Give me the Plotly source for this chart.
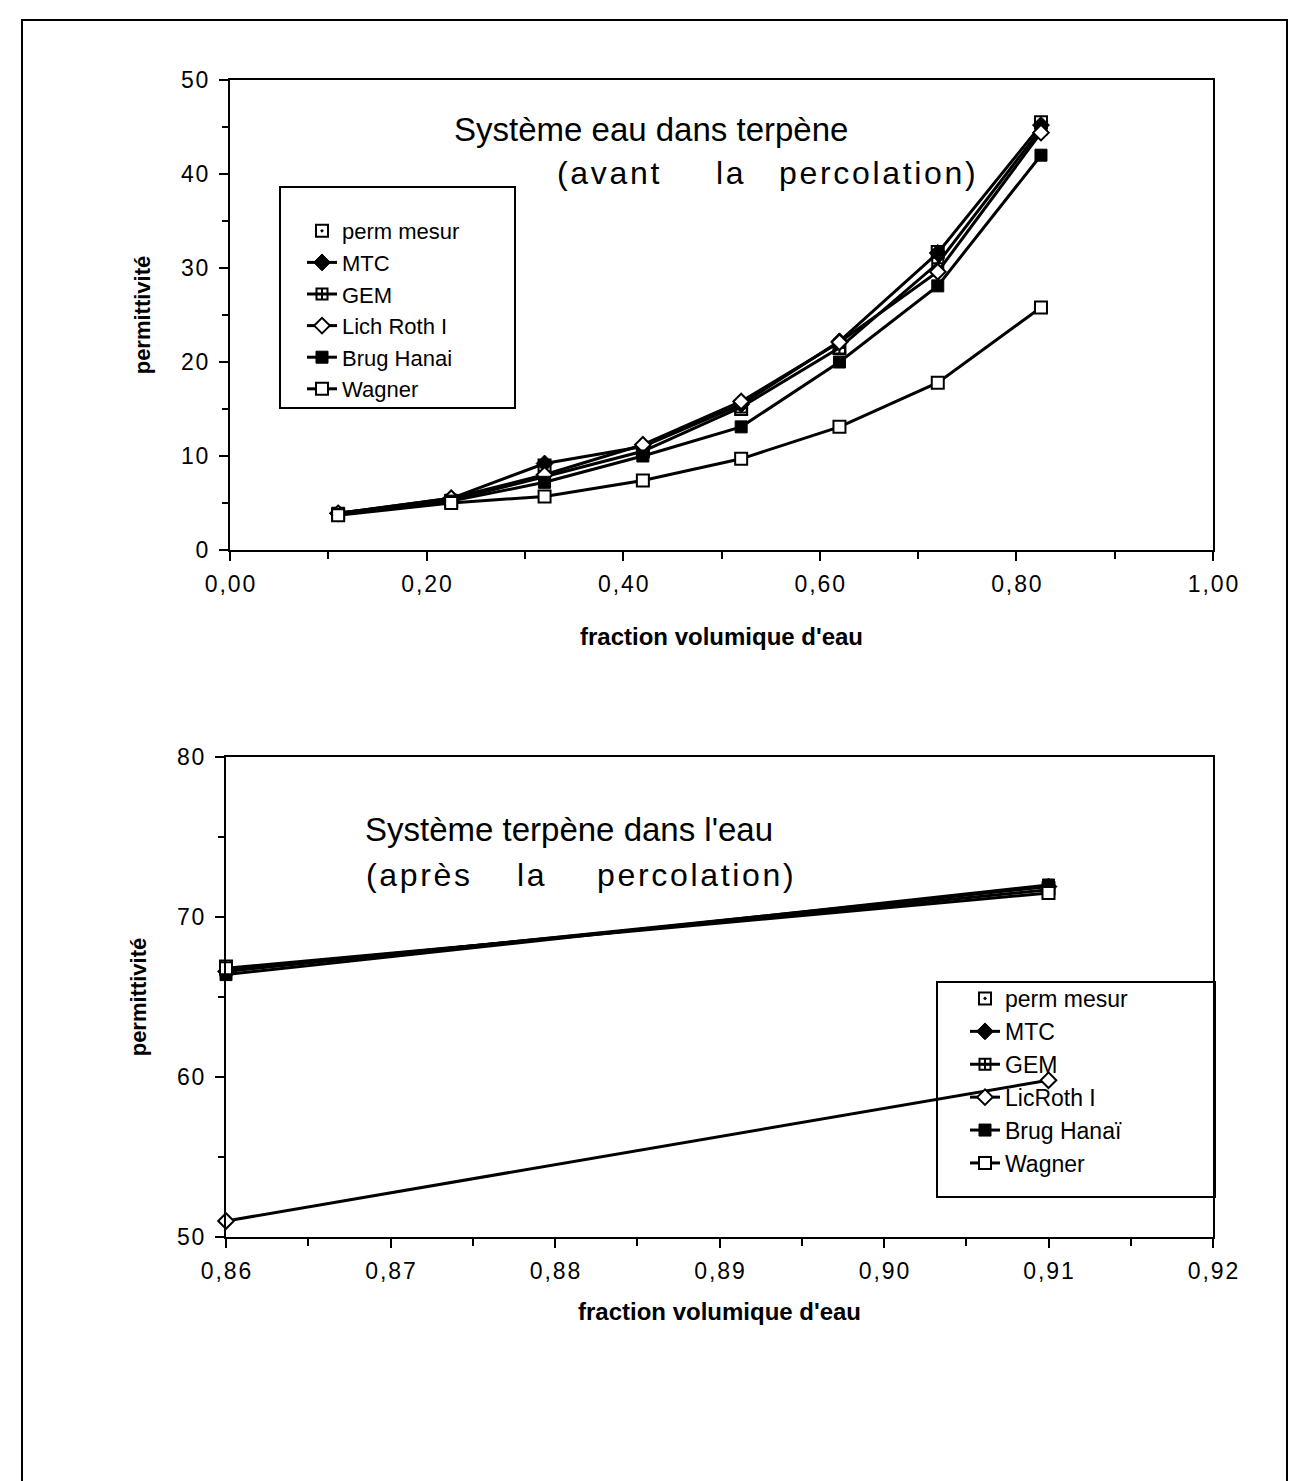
import plotly.graph_objects as go

W, H = 1308, 1481

# ---------------- data ----------------
series_names_top = ["perm mesur", "MTC", "GEM", "Lich Roth I", "Brug Hanai", "Wagner"]
series_names_bot = ["perm mesur", "MTC", "GEM", "LicRoth I", "Brug Hanaï", "Wagner"]

x_top = [0.11, 0.225, 0.32, 0.42, 0.52, 0.62, 0.72, 0.825]
perm_mesur_top = [3.8, 5.2, 9.0, 10.5, 15.0, 21.5, 31.7, 45.5]
mtc_top = [3.9, 5.5, 9.2, 11.0, 15.5, 22.2, 31.6, 45.2]
gem_top = [3.9, 5.3, 7.8, 10.5, 15.2, 21.5, 30.5, 44.8]
lich_top = [3.9, 5.5, 8.0, 11.2, 15.8, 22.1, 29.6, 44.4]
brug_top = [3.8, 5.2, 7.2, 10.0, 13.1, 20.0, 28.1, 42.0]
wagner_top = [3.7, 5.0, 5.7, 7.4, 9.7, 13.1, 17.8, 25.8]

x_bot = [0.86, 0.91]
perm_mesur_bot = [66.9, 71.8]
mtc_bot = [66.6, 71.9]
gem_bot = [66.7, 71.7]
lich_bot = [51.0, 59.8]
brug_bot = [66.4, 72.0]
wagner_bot = [66.8, 71.5]

x_ticks_top = [0.0, 0.2, 0.4, 0.6, 0.8, 1.0]
y_ticks_top = [0, 10, 20, 30, 40, 50]
x_ticks_bot = [0.86, 0.87, 0.88, 0.89, 0.90, 0.91, 0.92]
y_ticks_bot = [50, 60, 70, 80]

# ---------------- helpers ----------------
OFF = 8  # page body margin

def px(x):
    return (x - OFF) / W

def py(y):
    return 1 - (y - OFF) / H

FONT = "Liberation Sans, Arial, sans-serif"
HAIR = "\u200a"

def spread(s, sep=HAIR):
    return sep.join(list(s))

def fmt_x(v):
    return spread(f"{v:.2f}".replace(".", ","))

def fmt_y(v):
    return spread(f"{v:d}")

styles = [
    dict(mode="markers", marker=dict(symbol="square-open-dot", size=12, color="black", line=dict(width=2))),
    dict(mode="lines+markers", marker=dict(symbol="diamond", size=13, color="black", line=dict(color="black", width=1))),
    dict(mode="lines+markers", marker=dict(symbol="square-cross-open", size=11, color="black", line=dict(width=2))),
    dict(mode="lines+markers", marker=dict(symbol="diamond", size=12, color="white", line=dict(color="black", width=2))),
    dict(mode="lines+markers", marker=dict(symbol="square", size=12, color="black", line=dict(color="black", width=1))),
    dict(mode="lines+markers", marker=dict(symbol="square", size=12, color="white", line=dict(color="black", width=2))),
]

fig = go.Figure()

top_vals = [perm_mesur_top, mtc_top, gem_top, lich_top, brug_top, wagner_top]
bot_vals = [perm_mesur_bot, mtc_bot, gem_bot, lich_bot, brug_bot, wagner_bot]

for name, vals, st in zip(series_names_top, top_vals, styles):
    fig.add_trace(go.Scatter(x=x_top, y=vals, name=name, xaxis="x", yaxis="y",
                             line=dict(color="black", width=3), cliponaxis=False,
                             legend="legend", **st))

for name, vals, st in zip(series_names_bot, bot_vals, styles):
    fig.add_trace(go.Scatter(x=x_bot, y=vals, name=name, xaxis="x2", yaxis="y2",
                             line=dict(color="black", width=3), cliponaxis=False,
                             legend="legend2", **st))

axis_common = dict(showline=True, linecolor="black", linewidth=2, mirror=True,
                   showgrid=False, zeroline=False, ticks="outside", tickcolor="black",
                   tickwidth=2, ticklen=9, automargin=False,
                   tickfont=dict(family=FONT, size=23, color="black"))

ytitle_font = dict(family=FONT, size=22, color="black")
xtitle_font = dict(family=FONT, size=24, color="black")

fig.update_layout(
    width=W, height=H,
    margin=dict(l=0, r=0, t=0, b=0, pad=0),
    paper_bgcolor="white", plot_bgcolor="white",
    showlegend=True,
    xaxis=dict(domain=[px(230), px(1213)], range=[0, 1], anchor="y",
               tickvals=x_ticks_top, ticktext=[fmt_x(v) for v in x_ticks_top],
               ticklabelstandoff=3,
               minor=dict(dtick=0.1, ticks="outside", ticklen=7, tickcolor="black", tickwidth=2),
               title=dict(text="<b>fraction volumique d'eau</b>", font=xtitle_font, standoff=33),
               **axis_common),
    yaxis=dict(domain=[py(550), py(80)], range=[0, 50], anchor="x",
               tickvals=y_ticks_top, ticktext=[fmt_y(v) for v in y_ticks_top],
               ticklabelstandoff=6,
               minor=dict(dtick=5, ticks="outside", ticklen=6, tickcolor="black", tickwidth=2),
               title=dict(text="<b>permittivité</b>", font=ytitle_font, standoff=24),
               **axis_common),
    xaxis2=dict(domain=[px(226), px(1213)], range=[0.86, 0.92], anchor="y2",
                tickvals=x_ticks_bot, ticktext=[fmt_x(v) for v in x_ticks_bot],
                ticklabelstandoff=3,
                minor=dict(dtick=0.005, ticks="outside", ticklen=7, tickcolor="black", tickwidth=2),
                title=dict(text="<b>fraction volumique d'eau</b>", font=xtitle_font, standoff=21),
                **axis_common),
    yaxis2=dict(domain=[py(1237), py(757)], range=[50, 80], anchor="x2",
                tickvals=y_ticks_bot, ticktext=[fmt_y(v) for v in y_ticks_bot],
                ticklabelstandoff=6,
                minor=dict(dtick=5, ticks="outside", ticklen=6, tickcolor="black", tickwidth=2),
                title=dict(text="<b>permittivité</b>", font=ytitle_font, standoff=24),
                **axis_common),
    legend=dict(x=px(302), y=py(210), xanchor="left", yanchor="top",
                bgcolor="rgba(0,0,0,0)", borderwidth=0,
                font=dict(family=FONT, size=22, color="black"), tracegroupgap=0),
    legend2=dict(x=px(965), y=py(977), xanchor="left", yanchor="top",
                 bgcolor="rgba(0,0,0,0)", borderwidth=0,
                 font=dict(family=FONT, size=23, color="black"), tracegroupgap=0),
)

shapes = [
    # outer frame
    dict(type="rect", xref="paper", yref="paper", x0=px(22), x1=px(1287), y0=-0.05, y1=py(20),
         line=dict(color="black", width=2)),
    # legend boxes
    dict(type="rect", xref="paper", yref="paper", x0=px(280), x1=px(515), y0=py(408), y1=py(187),
         line=dict(color="black", width=2), fillcolor="rgba(0,0,0,0)", layer="above"),
    dict(type="rect", xref="paper", yref="paper", x0=px(937), x1=px(1215), y0=py(1197), y1=py(982),
         line=dict(color="black", width=2), fillcolor="rgba(0,0,0,0)", layer="above"),
]
fig.update_layout(shapes=shapes)

hs = "\u200a"
def spaced(word):
    return hs.join(list(word))

ann = []
def add_text(text, x, y, size=30):
    ann.append(dict(text=text, xref="paper", yref="paper", x=px(x), y=py(y),
                    xanchor="left", yanchor="middle", showarrow=False,
                    font=dict(family=FONT, size=size, color="black")))

add_text("Système eau dans terpène", 452, 130, 33)
add_text(spaced("(avant"), 555, 173, 32)
add_text(spaced("la"), 714, 173, 32)
add_text(spaced("percolation)"), 777, 173, 32)

add_text("Système terpène dans l'eau", 363, 829, 33)
add_text(spaced("(après"), 364, 875, 32)
add_text(spaced("la"), 515, 875, 32)
add_text(spaced("percolation)"), 595, 875, 32)

fig.update_layout(annotations=ann)

fig.write_html("out.html")
